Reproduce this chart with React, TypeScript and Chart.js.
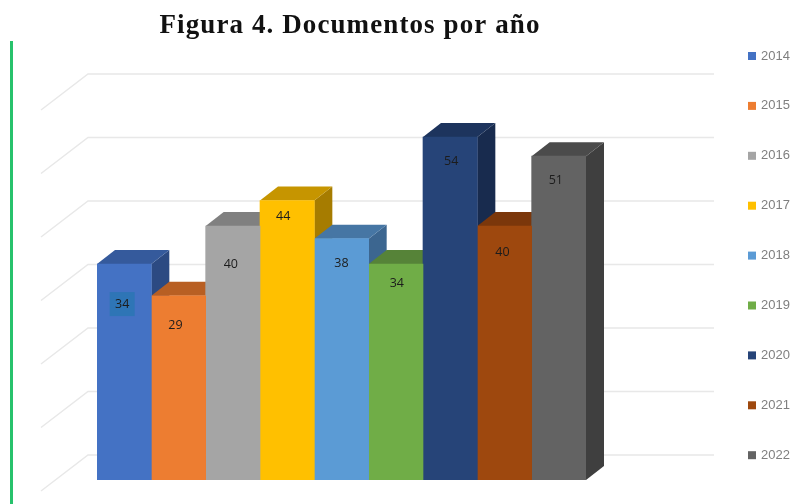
import React, { useEffect, useRef } from "react";
import { Chart, registerables } from "chart.js";

Chart.register(...registerables);

const titleText = "Figura 4. Documentos por año";
const category = ["Documentos"];
const years = ["2014", "2015", "2016", "2017", "2018", "2019", "2020", "2021", "2022"];
const documents = [34, 29, 40, 44, 38, 34, 54, 40, 51];
const frontColors = ["#4472c4", "#ed7d31", "#a5a5a5", "#ffc000", "#5b9bd5", "#70ad47", "#264478", "#9e480e", "#636363"];
const topColors = ["#355a9c", "#b85f23", "#808080", "#c69500", "#4676a4", "#568338", "#1d345d", "#7b370b", "#4b4b4b"];
const sideColors = ["#2c4a82", "#9c501e", "#6e6e6e", "#a67c00", "#3c6690", "#4a7130", "#182b4e", "#672e09", "#3f3f3f"];
const labelNudgeX = [-2, -3, -2, -4, 0, 1, 1, -2, -3];
const labelNudgeY = [40, 30, 38, 16, 25, 19, 24, 26, 24];

const DEPTH_X = 18;
const DEPTH_Y = 14;

const scene = {
  id: "scene",
  beforeDatasetsDraw(chart: any) {
    const { ctx, scales, chartArea } = chart;
    ctx.save();
    // accent rule at left
    ctx.fillStyle = "#27c26c";
    ctx.fillRect(10, 41, 3, 463);
    // wall gridlines
    ctx.strokeStyle = "#e8e8e8";
    ctx.lineWidth = 1.5;
    scales.y.ticks.forEach((t: any) => {
      const p = scales.y.getPixelForValue(t.value);
      ctx.beginPath();
      ctx.moveTo(chartArea.left - 56, p + 11);
      ctx.lineTo(chartArea.left - 9, p - 25);
      ctx.lineTo(chartArea.right + 128, p - 25);
      ctx.stroke();
    });
    // tops and sides, back to front
    chart.data.datasets.forEach((_: any, i: number) => {
      const el = chart.getDatasetMeta(i).data[0];
      const l = el.x - el.width / 2;
      const r = el.x + el.width / 2;
      ctx.fillStyle = sideColors[i];
      ctx.beginPath();
      ctx.moveTo(r, el.y);
      ctx.lineTo(r + DEPTH_X, el.y - DEPTH_Y);
      ctx.lineTo(r + DEPTH_X, el.base - DEPTH_Y);
      ctx.lineTo(r, el.base);
      ctx.closePath();
      ctx.fill();
      ctx.fillStyle = topColors[i];
      ctx.beginPath();
      ctx.moveTo(l, el.y);
      ctx.lineTo(l + DEPTH_X, el.y - DEPTH_Y);
      ctx.lineTo(r + DEPTH_X, el.y - DEPTH_Y);
      ctx.lineTo(r, el.y);
      ctx.closePath();
      ctx.fill();
    });
    ctx.restore();
  },
  afterDatasetsDraw(chart: any) {
    const { ctx } = chart;
    ctx.save();
    // data labels
    ctx.textAlign = "center";
    ctx.textBaseline = "middle";
    ctx.font = "12.5px 'Open Sans', 'Liberation Sans', sans-serif";
    chart.data.datasets.forEach((ds: any, i: number) => {
      const el = chart.getDatasetMeta(i).data[0];
      const x = el.x + labelNudgeX[i];
      const y = el.y + labelNudgeY[i];
      if (i === 0) {
        ctx.fillStyle = "#2e75b6";
        ctx.fillRect(x - 12.5, y - 12, 25, 24);
      }
      ctx.fillStyle = "#1c1c1c";
      ctx.fillText(String(ds.data[0]), x, y);
    });
    // title
    ctx.fillStyle = "#111111";
    ctx.font = "bold 27px 'Liberation Serif', serif";
    (ctx as any).letterSpacing = "1.1px";
    ctx.fillText(titleText, 350, 26);
    (ctx as any).letterSpacing = "0px";
    // legend
    ctx.textAlign = "left";
    ctx.font = "13px 'Liberation Sans', sans-serif";
    chart.data.datasets.forEach((ds: any, i: number) => {
      const y = 56 + i * 49.9;
      ctx.fillStyle = ds.backgroundColor;
      ctx.fillRect(748, y - 4, 8, 8);
      ctx.fillStyle = "#7f7f7f";
      ctx.fillText(ds.label, 761, y);
    });
    ctx.restore();
  },
};

export default function App() {
  const ref = useRef<HTMLCanvasElement>(null);
  useEffect(() => {
    document.body.style.margin = "0";
    const chart = new Chart(ref.current!, {
      type: "bar",
      data: {
        labels: category,
        datasets: years.map((y, i) => ({
          label: y,
          data: [documents[i]],
          backgroundColor: frontColors[i],
          barPercentage: 1,
          categoryPercentage: 1,
        })),
      },
      options: {
        responsive: false,
        animation: false,
        layout: { padding: { left: 97, right: 223, top: 99, bottom: 24 } },
        plugins: { legend: { display: false }, title: { display: false }, tooltip: { enabled: false } },
        scales: {
          x: { display: false },
          y: { display: false, min: 0, max: 60, ticks: { stepSize: 10 } },
        },
      },
      plugins: [scene],
    });
    return () => chart.destroy();
  }, []);
  return (
    <div style={{ width: 809, height: 504 }}>
      <canvas ref={ref} width={809} height={504} style={{ display: "block", filter: "blur(0.45px)" }} />
    </div>
  );
}
